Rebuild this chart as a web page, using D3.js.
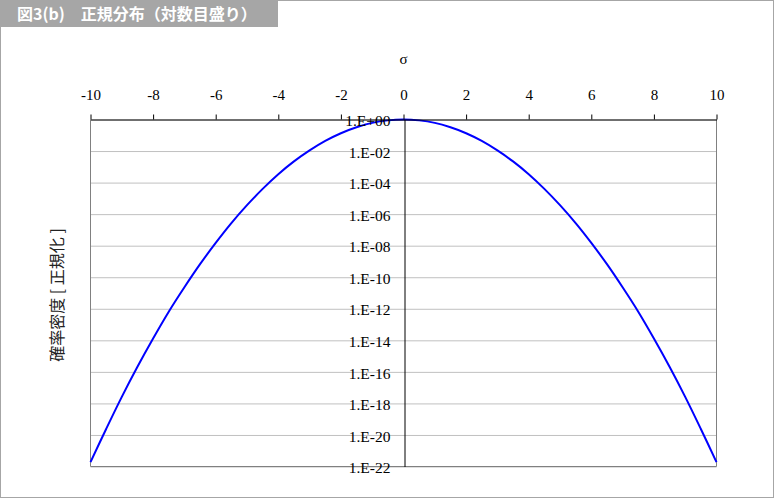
<!DOCTYPE html>
<html>
<head>
<meta charset="utf-8">
<script src="https://cdn.jsdelivr.net/npm/d3@7"></script>
<style>
  body { margin: 0; background: #fff; }
  svg { display: block; }
</style>
</head>
<body>
<script>
// values: sigma and normalised density (log scale)
var sigma = [-10, -9.5, -9, -8.5, -8, -7.5, -7, -6.5, -6, -5.5, -5, -4.5, -4, -3.5, -3, -2.5, -2, -1.5, -1, -0.5,
  0, 0.5, 1, 1.5, 2, 2.5, 3, 3.5, 4, 4.5, 5, 5.5, 6, 6.5, 7, 7.5, 8, 8.5, 9, 9.5, 10];
var density = [1.9e-22, 2.4e-20, 2.6e-18, 2.1e-16, 1.3e-14, 6.5e-13, 2.3e-11, 6.7e-10, 1.5e-8, 2.7e-7, 3.7e-6,
  4.0e-5, 3.4e-4, 2.2e-3, 1.1e-2, 4.4e-2, 0.135, 0.32, 0.61, 0.88,
  1, 0.88, 0.61, 0.32, 0.135, 4.4e-2, 1.1e-2, 2.2e-3, 3.4e-4, 4.0e-5, 3.7e-6, 2.7e-7, 1.5e-8, 6.7e-10,
  2.3e-11, 6.5e-13, 1.3e-14, 2.1e-16, 2.6e-18, 2.4e-20, 1.9e-22];
var xTicks = [-10, -8, -6, -4, -2, 0, 2, 4, 6, 8, 10];
var yTicks = [1, 1e-2, 1e-4, 1e-6, 1e-8, 1e-10, 1e-12, 1e-14, 1e-16, 1e-18, 1e-20, 1e-22];
var title = "図3(b)　正規分布（対数目盛り）";
var xTitle = "σ";
var yTitle = "確率密度 [ 正規化 ]";

var W = 774, H = 498;
var plotL = 90.5, plotR = 716.5, plotT = 119.5, plotB = 466.5;

var svg = d3.select("body").append("svg")
  .attr("width", W)
  .attr("height", H);

// outer frame
svg.append("rect")
  .attr("x", 0.5).attr("y", 0.5)
  .attr("width", W - 1).attr("height", H - 1)
  .attr("fill", "#fff")
  .attr("stroke", "#a6a6a6");

// title tab
svg.append("rect")
  .attr("x", 0).attr("y", 0)
  .attr("width", 278).attr("height", 27)
  .attr("fill", "#a6a6a6");
svg.append("text")
  .attr("x", 17).attr("y", 20)
  .attr("fill", "#fff")
  .style("font-family", "'Noto Sans CJK JP', sans-serif")
  .style("font-weight", "bold")
  .style("font-size", "16px")
  .text(title);

var x = d3.scaleLinear().domain([-10, 10]).range([plotL, plotR]);
var y = d3.scaleLog().domain([1e-22, 1]).range([plotB, plotT]);

function expLabel(d) {
  var e = Math.round(Math.log10(d));
  var s = String(Math.abs(e)).padStart(2, "0");
  return "1.E" + (e < 0 ? "-" : "+") + s;
}

// horizontal grid
var grid = svg.append("g")
  .attr("transform", "translate(" + plotL + ",0)")
  .call(d3.axisRight(y).tickValues(yTicks).tickSize(plotR - plotL).tickFormat(""));
grid.select(".domain").remove();
grid.selectAll("line").attr("stroke", "#c0c0c0");

// plot frame (left, right, bottom)
svg.append("path")
  .attr("d", "M" + plotL + "," + plotT + "V" + plotB + "H" + plotR + "V" + plotT)
  .attr("fill", "none")
  .attr("stroke", "#808080");

// curve
var line = d3.line()
  .x(function(d, i) { return x(sigma[i]); })
  .y(function(d) { return y(d); })
  .curve(d3.curveCatmullRom);

svg.append("path")
  .datum(density)
  .attr("d", line)
  .attr("fill", "none")
  .attr("stroke", "#0000ff")
  .attr("stroke-width", 2);

// x axis along the top
var xAxis = svg.append("g")
  .attr("transform", "translate(0," + plotT + ")")
  .call(d3.axisTop(x).tickValues(xTicks).tickSize(5).tickSizeOuter(0).tickPadding(15)
    .tickFormat(function(d) { return String(d); }));
xAxis.select(".domain").attr("stroke", "#000");
xAxis.selectAll("line").attr("stroke", "#000");
xAxis.selectAll("text")
  .attr("fill", "#000")
  .style("font-family", "'Liberation Serif', serif")
  .style("font-size", "15px");

// y axis at sigma = 0
var yAxis = svg.append("g")
  .attr("transform", "translate(" + Math.round(x(0)) + ".5,0)")
  .call(d3.axisLeft(y).tickValues(yTicks).tickSize(0).tickPadding(14).tickFormat(expLabel));
yAxis.select(".domain").attr("stroke", "#000");
yAxis.selectAll("text")
  .attr("fill", "#000")
  .attr("dy", "0.4em")
  .style("font-family", "'Liberation Serif', serif")
  .style("font-size", "15.5px");

// axis titles
svg.append("text")
  .attr("x", x(0)).attr("y", 64)
  .attr("text-anchor", "middle")
  .style("font-family", "'Liberation Serif', serif")
  .style("font-size", "15px")
  .text(xTitle);

svg.append("text")
  .attr("transform", "translate(63,295) rotate(-90)")
  .attr("text-anchor", "middle")
  .style("font-family", "'Noto Sans CJK JP', sans-serif")
  .style("font-size", "16px")
  .attr("fill", "#222")
  .text(yTitle);
</script>
</body>
</html>
